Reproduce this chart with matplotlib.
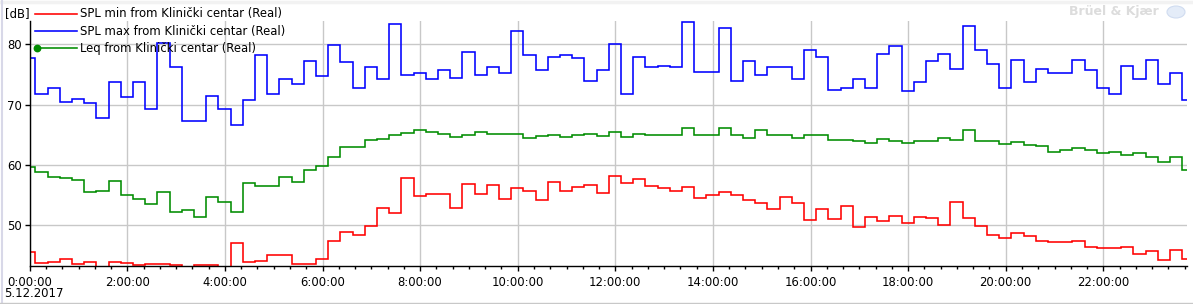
import numpy as np
import matplotlib.pyplot as plt
from matplotlib.lines import Line2D
from matplotlib.patches import Ellipse
from matplotlib.ticker import MultipleLocator, FuncFormatter

# 15-minute values, first reading at 0:07, last shown at 23:37 (hours)
spl_min = [45.45, 43.63, 43.79, 44.29, 43.52, 43.79, 42.9, 43.79, 43.63, 43.35,
           43.52, 43.52, 43.35, 42.9, 43.35, 43.35, 42.9, 46.95, 43.79, 44.07,
           45.0, 45.0, 43.52, 43.57, 44.4, 47.3, 48.8, 48.3, 49.8, 52.8,
           52.0, 57.8, 54.8, 55.2, 55.2, 52.8, 56.8, 55.2, 56.7, 54.3,
           56.2, 55.7, 54.2, 57.2, 55.7, 56.3, 56.7, 55.3, 58.2, 57.0,
           57.7, 56.5, 56.2, 55.7, 56.3, 54.5, 55.0, 55.5, 55.0, 54.2,
           53.7, 52.7, 54.7, 53.7, 50.8, 52.7, 51.0, 53.2, 49.7, 51.3,
           50.7, 51.5, 50.3, 51.3, 51.2, 50.0, 53.8, 51.2, 49.8, 48.3,
           47.8, 48.7, 48.2, 47.3, 47.2, 47.2, 47.3, 46.3, 46.2, 46.2,
           46.3, 45.2, 45.7, 44.2, 45.8, 44.3]
spl_max = [77.8, 71.8, 72.8, 70.5, 71.0, 70.3, 67.8, 73.8, 71.2, 73.7,
           69.3, 80.2, 76.2, 67.3, 67.3, 71.5, 69.3, 66.7, 70.7, 78.3,
           71.8, 74.3, 73.5, 77.3, 74.7, 79.9, 77.1, 72.8, 76.3, 74.2,
           83.4, 75.0, 75.2, 74.3, 75.8, 74.5, 78.8, 75.0, 76.3, 75.3,
           82.3, 78.3, 75.8, 78.0, 78.2, 77.8, 74.0, 75.8, 80.0, 71.8,
           78.0, 76.2, 76.5, 76.3, 83.7, 75.5, 75.5, 82.7, 74.0, 77.3,
           75.0, 76.3, 76.3, 74.3, 79.0, 78.0, 72.5, 72.8, 74.2, 72.8,
           78.5, 79.7, 72.2, 73.8, 77.2, 78.5, 76.0, 83.0, 79.0, 76.7,
           72.8, 77.5, 73.8, 76.0, 75.2, 75.2, 77.5, 75.7, 72.8, 71.7,
           76.5, 74.3, 77.5, 73.5, 75.3, 70.7]
leq = [59.7, 58.8, 58.0, 57.8, 57.5, 55.5, 55.7, 57.3, 55.0, 54.3,
       53.5, 55.5, 52.2, 52.5, 51.3, 54.7, 53.8, 52.2, 57.0, 56.5,
       56.5, 58.0, 57.2, 59.2, 59.8, 61.3, 63.0, 63.0, 64.2, 64.3,
       65.0, 65.3, 65.8, 65.5, 65.2, 64.7, 65.0, 65.5, 65.2, 65.2,
       65.2, 64.5, 64.8, 65.0, 64.7, 65.0, 65.2, 64.8, 65.5, 64.7,
       65.2, 65.0, 65.0, 65.0, 66.2, 65.0, 65.0, 66.2, 65.0, 64.5,
       65.8, 65.0, 65.0, 64.5, 65.0, 65.0, 64.2, 64.2, 64.0, 63.7,
       64.3, 64.0, 63.7, 64.0, 64.0, 64.5, 64.2, 65.8, 64.0, 64.0,
       63.5, 63.8, 63.3, 63.2, 62.2, 62.5, 62.8, 62.5, 62.0, 62.2,
       61.7, 62.0, 61.3, 60.5, 61.3, 59.2]

# step edges in hours: day start, readings every 15 min from 0:07, past the end
edges = np.concatenate([[0.0], 7 / 60 + 0.25 * np.arange(95), [23.87]])

names = ["SPL min from Klinički centar (Real)",
         "SPL max from Klinički centar (Real)",
         "Leq from Klinički centar (Real)"]
colors = ["#ff0000", "#0000ff", "#008c00"]

W, H = 1193, 304
fs = 8.4
fig = plt.figure(figsize=(W / 100, H / 100), dpi=100)
fig.patch.set_facecolor("white")
ax = fig.add_axes([29.7 / W, 1 - 266 / H, (1187 - 29.7) / W, (266 - 21) / H])

for vals, c in zip([spl_min, spl_max, leq], colors):
    ax.stairs(vals, edges, color=c, lw=1.15, baseline=None, zorder=3)

ax.set_xlim(0, 23.715)
ax.set_ylim(43.2, 83.9)
ax.set_yticks([50, 60, 70, 80])
ax.xaxis.set_major_locator(MultipleLocator(2))
ax.xaxis.set_minor_locator(MultipleLocator(1 / 3))
ax.xaxis.set_major_formatter(FuncFormatter(lambda v, p: f"{int(round(v))}:00:00"))
ax.grid(True, which="major", color="#c8c8c8", lw=1.0, zorder=0)
ax.set_axisbelow(True)
for s in ["top", "right"]:
    ax.spines[s].set_visible(False)
for s in ["left", "bottom"]:
    ax.spines[s].set_linewidth(1.0)
    ax.spines[s].set_zorder(4)
ax.tick_params(which="major", length=3.4, width=1.0, labelsize=fs, pad=4)
ax.tick_params(axis="y", pad=2)
ax.tick_params(which="minor", length=1.8, width=1.0)

# legend drawn in pixel positions at the top left
def fx(px):
    return px / W

def fy(py):
    return 1 - py / H

for i, (n, c) in enumerate(zip(names, colors)):
    yy = 14 + 17.2 * i
    fig.add_artist(Line2D([fx(35), fx(77)], [fy(yy), fy(yy)], color=c, lw=1.15))
    fig.text(fx(80), fy(yy), n, fontsize=fs, va="center", ha="left", zorder=6)
fig.add_artist(Line2D([fx(37)], [fy(14 + 34.4)], color=colors[2], marker="o",
                      ms=4.6, lw=0))

fig.text(fx(5), fy(14), "[dB]", fontsize=fs, va="center", ha="left")
fig.text(fx(4), fy(293.5), "5.12.2017", fontsize=fs, va="center", ha="left")
fig.text(fx(1159), fy(12), "Brüel & Kjær", fontsize=9, fontweight="bold",
         color="#dcdcdc", va="center", ha="right")
fig.add_artist(Ellipse((fx(1176), fy(12)), 18 / W, 12 / H,
                       transform=fig.transFigure, facecolor="#e4ecf8",
                       edgecolor="#d0dcf0", lw=0.8))

# window frame bits
fig.add_artist(Line2D([fx(0), fx(W)], [fy(1.5), fy(1.5)], color="#f2f2f2", lw=2.5))
fig.add_artist(Line2D([fx(2), fx(2)], [fy(0), fy(H)], color="#d8d8e8", lw=1.5))
fig.add_artist(Line2D([fx(0), fx(W)], [fy(302.5), fy(302.5)], color="#c8c8c8", lw=1.0))

fig.savefig("out.png", dpi=100)
